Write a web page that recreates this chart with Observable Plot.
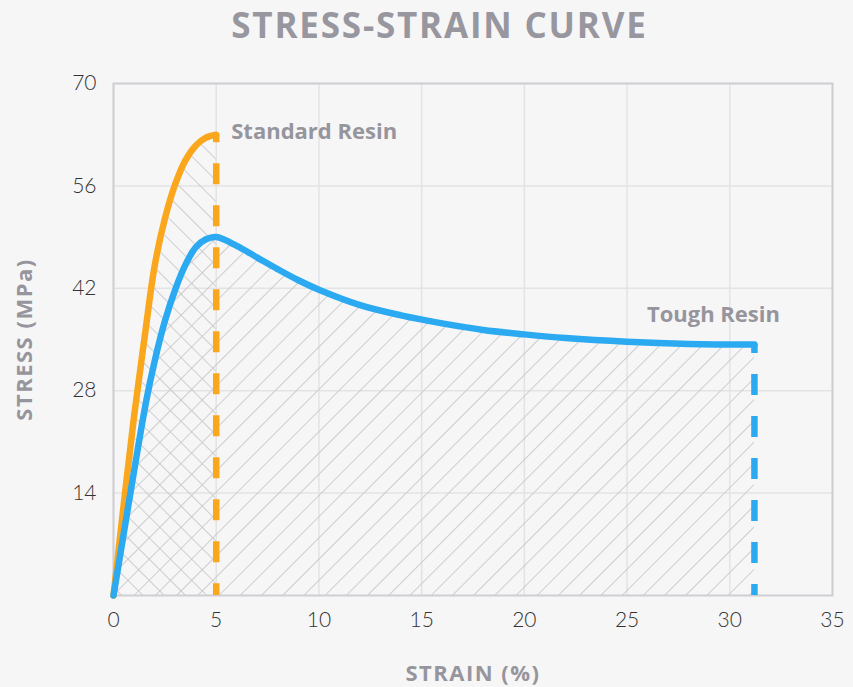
<!DOCTYPE html>
<html>
<head>
<meta charset="utf-8">
<script src="https://cdn.jsdelivr.net/npm/d3@7"></script>
<script src="https://cdn.jsdelivr.net/npm/@observablehq/plot@0.6"></script>
<style>
  html, body { margin: 0; padding: 0; background: #F6F6F6; }
  #title { height: 50px; line-height: 50px; text-align: center; padding-left: 26px; font-family: "Open Sans", Lato, sans-serif; font-weight: 700; font-size: 35px; letter-spacing: 1.8px; color: #98979F; }
  #chart svg { display: block; overflow: visible; }
</style>
</head>
<body>
<div id="title">STRESS-STRAIN CURVE</div>
<div id="chart"></div>
<script>
// Data
const standardStrain = [0, 0.5, 1, 1.5, 2, 2.5, 3, 3.5, 4, 4.5, 5];
const standardStress = [0, 12.5, 24.5, 35, 45, 51.5, 56.2, 59.5, 61.5, 62.6, 63];
const toughStrain = [0, 0.5, 1, 1.6, 2, 2.5, 3, 3.5, 4, 4.5, 5, 6, 7, 8, 9, 10, 12, 14, 16, 18, 20, 22, 25, 28, 31.2];
const toughStress = [0, 8.5, 17, 26.7, 32, 37.5, 41.8, 45.2, 47.6, 48.7, 49, 47.8, 46.2, 44.6, 43.1, 41.8, 39.7, 38.3, 37.2, 36.3, 35.7, 35.2, 34.7, 34.4, 34.3];
const xTicks = [0, 5, 10, 15, 20, 25, 30, 35];
const yTicks = [14, 28, 42, 56, 70];
const seriesNames = ["Standard Resin", "Tough Resin"];
const xLabel = "STRAIN (%)";
const yLabel = "STRESS (MPa)";

const standard = standardStrain.map((x, i) => ({x, y: standardStress[i]}));
const tough = toughStrain.map((x, i) => ({x, y: toughStress[i]}));
const stdEnd = standard[standard.length - 1];
const toughEnd = tough[tough.length - 1];

const ORANGE = "#FBA71E";
const BLUE = "#2BAAF1";
const LABEL = "#96959D";
const HATCH = "#C6C6CA";
const LABEL_FONT = "'Open Sans', Lato, sans-serif";

function defs() {
  const ns = "http://www.w3.org/2000/svg";
  const g = document.createElementNS(ns, "defs");
  g.innerHTML = `
    <pattern id="hatchFwd" patternUnits="userSpaceOnUse" width="15" height="15" patternTransform="rotate(45)">
      <line x1="0" y1="0" x2="0" y2="15" stroke="${HATCH}" stroke-width="1.7"/>
    </pattern>
    <pattern id="hatchBack" patternUnits="userSpaceOnUse" width="15" height="15" patternTransform="rotate(-45)">
      <line x1="0" y1="0" x2="0" y2="15" stroke="${HATCH}" stroke-width="1.7"/>
    </pattern>`;
  return g;
}

const chart = Plot.plot({
  width: 853,
  height: 637,
  marginTop: 33,
  marginBottom: 92,
  marginLeft: 113,
  marginRight: 21,
  style: {background: "transparent", fontFamily: "Lato, 'Open Sans', sans-serif", overflow: "visible"},
  x: {domain: [0, 35], ticks: xTicks, tickSize: 0, tickPadding: 17, label: null},
  y: {domain: [0, 70], ticks: yTicks, tickSize: 0, tickPadding: 17, label: null},
  marks: [
    defs,
    Plot.gridX(xTicks, {stroke: "#E3E3E6", strokeOpacity: 1, strokeWidth: 1.5}),
    Plot.gridY(yTicks, {stroke: "#E3E3E6", strokeOpacity: 1, strokeWidth: 1.5}),
    Plot.areaY(tough, {x: "x", y: "y", fill: "url(#hatchFwd)", curve: "catmull-rom"}),
    Plot.areaY(standard, {x: "x", y: "y", fill: "url(#hatchBack)", curve: "catmull-rom"}),
    Plot.frame({stroke: "#CFCFD3", strokeWidth: 2}),
    Plot.ruleX([stdEnd], {x: "x", y1: "y", y2: 0, stroke: ORANGE, strokeWidth: 6.5, strokeDasharray: "21,21", strokeDashoffset: 13}),
    Plot.ruleX([toughEnd], {x: "x", y1: "y", y2: 0, stroke: BLUE, strokeWidth: 6.5, strokeDasharray: "21,21", strokeDashoffset: 12}),
    Plot.line(standard, {x: "x", y: "y", stroke: ORANGE, strokeWidth: 6.5, curve: "catmull-rom"}),
    Plot.line(tough, {x: "x", y: "y", stroke: BLUE, strokeWidth: 6.5, curve: "catmull-rom"}),
    Plot.text([stdEnd], {x: "x", y: "y", text: () => seriesNames[0], dx: 15, dy: -3, textAnchor: "start", lineAnchor: "middle", fill: LABEL, fontWeight: 700, fontSize: 22, fontFamily: LABEL_FONT}),
    Plot.text([toughEnd], {x: "x", y: "y", text: () => seriesNames[1], dx: -41, dy: -30, textAnchor: "middle", lineAnchor: "middle", fill: LABEL, fontWeight: 700, fontSize: 22, fontFamily: LABEL_FONT}),
    Plot.text([xLabel], {frameAnchor: "bottom", dy: 78, text: d => d, textAnchor: "middle", lineAnchor: "middle", fill: LABEL, fontWeight: 700, fontSize: 22, fontFamily: LABEL_FONT}),
    Plot.text([yLabel], {frameAnchor: "left", dx: -89, rotate: -90, text: d => d, textAnchor: "middle", lineAnchor: "middle", fill: LABEL, fontWeight: 700, fontSize: 22, fontFamily: LABEL_FONT})
  ]
});

chart.querySelectorAll("g[aria-label*='axis']").forEach(g => {
  g.setAttribute("font-size", "21");
  g.setAttribute("font-weight", "300");
  g.setAttribute("fill", "#333333");
});
chart.querySelectorAll("g[aria-label='text'] text").forEach(t => {
  const s = t.textContent;
  if (s === xLabel || s === yLabel) t.setAttribute("letter-spacing", "1.5");
});
document.getElementById("chart").appendChild(chart);
</script>
</body>
</html>
